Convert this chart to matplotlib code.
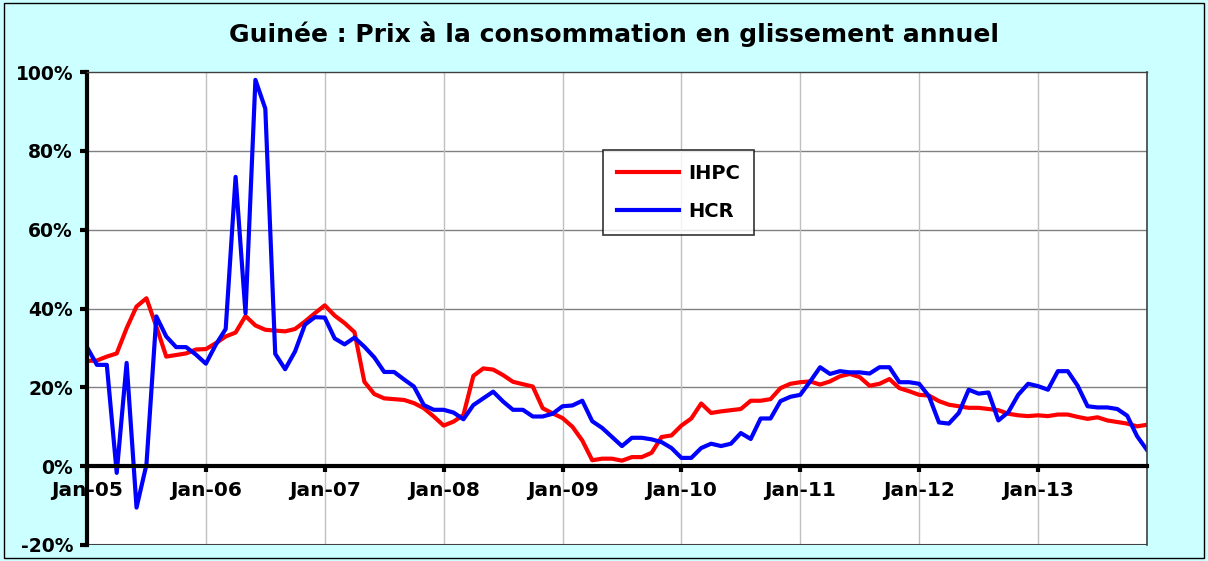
import matplotlib
matplotlib.use("Agg")
import matplotlib.pyplot as plt
from matplotlib.patches import Rectangle
from matplotlib.ticker import FuncFormatter

# the original uses a wide bold sans, DejaVu Sans Bold is the closest match in width
plt.rcParams['font.family'] = ['DejaVu Sans']

# monthly year-on-year inflation, Jan-05 .. Dec-13 (in %)
months = list(range(108))
tick_labels = ['Jan-05', 'Jan-06', 'Jan-07', 'Jan-08', 'Jan-09',
               'Jan-10', 'Jan-11', 'Jan-12', 'Jan-13']

ihpc = [26.7, 26.8, 27.8, 28.6, 35.0, 40.5, 42.6, 35.4, 27.8, 28.2, 28.6, 29.6,
        29.7, 31.2, 32.9, 33.9, 38.1, 35.7, 34.6, 34.4, 34.2, 34.8, 36.7, 38.8,
        40.8, 38.2, 36.3, 34.0, 21.4, 18.3, 17.2, 17.0, 16.8, 16.0, 14.7, 12.6,
        10.3, 11.3, 13.0, 22.9, 24.8, 24.5, 23.1, 21.4, 20.8, 20.2, 14.7, 13.4,
        12.2, 10.0, 6.5, 1.5, 1.9, 1.9, 1.4, 2.3, 2.3, 3.4, 7.4, 7.8,
        10.3, 12.1, 15.9, 13.5, 13.9, 14.2, 14.5, 16.6, 16.6, 17.0, 19.8, 20.9,
        21.3, 21.5, 20.7, 21.5, 22.8, 23.4, 22.6, 20.4, 20.9, 22.1, 19.8, 19.0,
        18.1, 17.9, 16.5, 15.6, 15.2, 14.8, 14.8, 14.5, 14.2, 13.3, 12.9, 12.7,
        12.9, 12.7, 13.1, 13.1, 12.5, 12.0, 12.4, 11.6, 11.2, 10.8, 10.1, 10.5]

hcr = [30.2, 25.7, 25.7, -1.7, 26.2, -10.5, 0.4, 38.0, 32.9, 30.2, 30.2, 28.3,
       26.0, 30.8, 34.8, 73.4, 38.8, 98.0, 90.7, 28.5, 24.6, 29.1, 35.9, 37.8,
       37.7, 32.4, 30.9, 32.6, 30.3, 27.6, 23.9, 23.9, 22.0, 20.2, 15.5, 14.3,
       14.3, 13.6, 11.9, 15.5, 17.2, 18.9, 16.4, 14.3, 14.3, 12.6, 12.6, 13.3,
       15.2, 15.4, 16.6, 11.4, 9.7, 7.4, 5.1, 7.2, 7.2, 6.8, 6.1, 4.6,
       2.1, 2.1, 4.6, 5.7, 5.1, 5.7, 8.4, 6.9, 12.1, 12.1, 16.5, 17.6,
       18.1, 21.5, 25.1, 23.4, 24.1, 23.8, 23.8, 23.5, 25.1, 25.1, 21.3, 21.3,
       20.9, 17.7, 11.1, 10.8, 13.5, 19.4, 18.4, 18.7, 11.6, 13.7, 18.1, 20.9,
       20.3, 19.4, 24.1, 24.1, 20.4, 15.2, 14.9, 14.9, 14.5, 12.8, 7.6, 4.1]

fig = plt.figure(figsize=(12.08, 5.61), dpi=100, facecolor='#CCFFFF')
fig.patches.append(Rectangle((0.003, 0.005), 0.994, 0.99, transform=fig.transFigure,
                             fill=False, edgecolor='black', linewidth=1))

ax = fig.add_axes([87 / 1208, 1 - 545 / 561, (1147 - 87) / 1208, (545 - 72) / 561])
ax.set_facecolor('white')

ax.plot(months, ihpc, color='#FF0000', lw=3, label='IHPC', solid_joinstyle='round')
ax.plot(months, hcr, color='#0000FF', lw=3, label='HCR', solid_joinstyle='round')

ax.set_xlim(0, 107)
ax.set_ylim(-20, 100)
ax.set_yticks(range(-20, 101, 20))
ax.yaxis.set_major_formatter(FuncFormatter(lambda v, p: '%d%%' % v))
ax.set_xticks(range(0, 108, 12))
ax.set_xticklabels(tick_labels)

# grid
for v in range(20, 100, 20):
    ax.axhline(v, color='#808080', lw=1, zorder=0.5)
for x in range(12, 108, 12):
    ax.axvline(x, color='#C0C0C0', lw=1, zorder=0.5)

ax.spines['bottom'].set_position(('data', 0))
ax.spines['bottom'].set_linewidth(3)
ax.spines['left'].set_linewidth(3)
ax.spines['top'].set_color('#404040')
ax.spines['top'].set_linewidth(1)
ax.spines['right'].set_color('#404040')
ax.spines['right'].set_linewidth(1.2)
ax.axhline(-20, color='#404040', lw=1.5, zorder=0.6)

ax.tick_params(axis='y', direction='out', length=5, width=3, pad=5, labelsize=13.5)
ax.tick_params(axis='x', direction='out', length=4, width=3, pad=7, labelsize=14.5)
for lab in ax.get_xticklabels() + ax.get_yticklabels():
    lab.set_fontweight('bold')

fig.text(614 / 1208, 1 - 34 / 561, 'Guinée : Prix à la consommation en glissement annuel',
         ha='center', va='center', fontsize=18, fontweight='bold')

leg = ax.legend(loc='upper left', bbox_to_anchor=((603 - 87) / 1060, (545 - 150) / 473),
                borderaxespad=0, frameon=True, fancybox=False, edgecolor='black',
                borderpad=0.7, labelspacing=1.0, handlelength=3.2, handletextpad=0.5,
                prop={'weight': 'bold', 'size': 14})
leg.get_frame().set_linewidth(1.2)

plt.savefig('out.png', dpi=100, facecolor=fig.get_facecolor())
plt.close('all')
